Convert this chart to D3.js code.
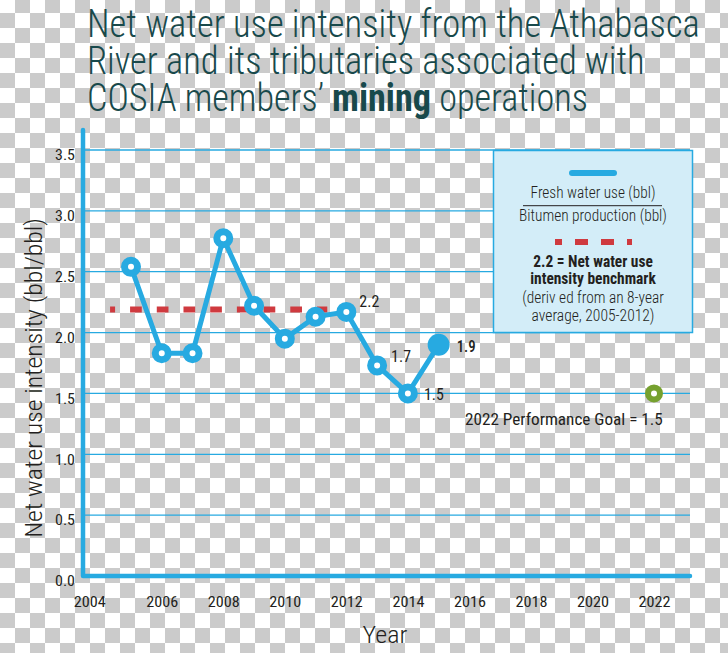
<!DOCTYPE html>
<html><head><meta charset="utf-8">
<script src="https://cdn.jsdelivr.net/npm/d3@7"></script>
<style>html,body{margin:0;padding:0;background:#fff;} svg{display:block}</style>
</head><body>
<svg id="chart" width="728" height="653"></svg>
<script>
// ---------- data ----------
const years = [2005, 2006, 2007, 2008, 2009, 2010, 2011, 2012, 2013, 2014, 2015];
const intensity = [2.54, 1.83, 1.83, 2.775, 2.22, 1.95, 2.13, 2.17, 1.73, 1.50, 1.90];
const labeledYears = [2012, 2013, 2014, 2015];
const labelTexts = ["2.2", "1.7", "1.5", "1.9"];
const benchmarkValue = 2.19;
const benchmarkYears = [2004.32, 2011.38];
const goalYear = 2022;
const goalValue = 1.5;
const xTickValues = [2004, 2006, 2008, 2010, 2012, 2014, 2016, 2018, 2020, 2022];
const yTickValues = [0, 0.5, 1.0, 1.5, 2.0, 2.5, 3.0, 3.5];
const titleLines = ["Net water use intensity from the Athabasca", "River and its tributaries associated with"];
const titleLine3 = ["COSIA members’ ", "mining", " operations"];
const yTitle = "Net water use intensity (bbl/bbl)";
const xTitle = "Year";
const legendFraction = ["Fresh water use (bbl)", "Bitumen production (bbl)"];
const legendBenchmarkBold = ["2.2 = Net water use", "intensity benchmark"];
const legendBenchmarkNote = ["(deriv ed from an 8-year", "average, 2005-2012)"];
const goalLabel = "2022 Performance Goal = 1.5";

// ---------- style ----------
const BLUE = "#27aae1", RED = "#cf3a3f", GREEN = "#76a12f", INK = "#231f20", TEAL = "#18494b";
const FONT = "'Roboto Condensed','Liberation Sans Narrow','DejaVu Sans Condensed',Roboto,sans-serif";

const svg = d3.select("#chart");

// checkerboard background
const defs = svg.append("defs");
const pat = defs.append("pattern").attr("id", "checker").attr("patternUnits", "userSpaceOnUse")
  .attr("x", 0).attr("y", -2).attr("width", 30).attr("height", 30);
pat.append("rect").attr("width", 30).attr("height", 30).attr("fill", "#ffffff");
pat.append("rect").attr("x", 15).attr("y", 0).attr("width", 15).attr("height", 15).attr("fill", "#cbcbcb");
pat.append("rect").attr("x", 0).attr("y", 15).attr("width", 15).attr("height", 15).attr("fill", "#cbcbcb");
svg.append("rect").attr("width", 728).attr("height", 653).attr("fill", "url(#checker)");

// helper: text fitted to a width
function addText(parent, o, build) {
  const g = parent.append("g").attr("transform", `translate(${o.x},${o.y}) rotate(${o.rotate || 0})`);
  const t = g.append("text").attr("text-anchor", o.anchor || "start")
    .attr("font-size", o.size).attr("font-weight", o.weight || 400)
    .attr("fill", o.fill || INK).attr("font-family", o.family || FONT);
  if (typeof build === "string") t.text(build); else build(t);
  if (o.width) {
    const w = t.node().getBBox().width;
    t.attr("transform", `scale(${o.width / w},1)`);
  }
  return t;
}

// scales
const x = d3.scaleLinear().domain([2005, 2022]).range([131, 654]);
const y = d3.scaleLinear().domain([0, 3.5]).range([576, 150]);
const X0 = 83, X1 = 690;

// gridlines
svg.append("g").selectAll("line").data(yTickValues.filter(d => d > 0)).join("line")
  .attr("x1", X0).attr("x2", X1).attr("y1", d => y(d)).attr("y2", d => y(d))
  .attr("stroke", BLUE).attr("stroke-width", 1.3);

// axes frame
svg.append("path").attr("d", `M${X0},130 L${X0},${y(0)} L${X1},${y(0)}`)
  .attr("fill", "none").attr("stroke", BLUE).attr("stroke-width", 4.5)
  .attr("stroke-linejoin", "round").attr("stroke-linecap", "round");

// y axis ticks
const yAxis = svg.append("g").attr("transform", `translate(${X0},0)`)
  .call(d3.axisLeft(y).tickValues(yTickValues).tickFormat(d3.format(".1f")).tickSize(0).tickPadding(8));
yAxis.select(".domain").remove();
yAxis.selectAll("text").attr("font-family", FONT).attr("font-size", 15).attr("fill", INK).attr("y", 5)
  .attr("textLength", 20).attr("lengthAdjust", "spacingAndGlyphs");

// x axis ticks
const xAxis = svg.append("g").attr("transform", `translate(0,${y(0)})`)
  .call(d3.axisBottom(x).tickValues(xTickValues).tickFormat(d3.format("d")).tickSize(0).tickPadding(20));
xAxis.select(".domain").remove();
xAxis.selectAll("text").attr("font-family", FONT).attr("font-size", 15).attr("fill", INK)
  .attr("dx", d => d === 2004 ? -11 : 0)
  .attr("textLength", 32).attr("lengthAdjust", "spacingAndGlyphs");

// axis titles
addText(svg, { x: 42, y: 378, rotate: -90, anchor: "middle", size: 23, weight: 300, width: 320 }, yTitle);
addText(svg, { x: 385, y: 643, anchor: "middle", size: 24, weight: 300, width: 45 }, xTitle);

// benchmark dashed line
svg.append("line")
  .attr("x1", x(benchmarkYears[0])).attr("x2", x(benchmarkYears[1]))
  .attr("y1", y(benchmarkValue)).attr("y2", y(benchmarkValue))
  .attr("stroke", RED).attr("stroke-width", 6)
  .attr("stroke-dasharray", "11.7,15").attr("stroke-dashoffset", 6.7);

// series line
const pts = years.map((yr, i) => ({ yr, v: intensity[i] }));
svg.append("path").datum(pts)
  .attr("d", d3.line().x(d => x(d.yr)).y(d => y(d.v)))
  .attr("fill", "none").attr("stroke", BLUE).attr("stroke-width", 5)
  .attr("stroke-linejoin", "round");

// points
const lastYear = years[years.length - 1];
svg.append("g").selectAll("circle").data(pts).join("circle")
  .attr("cx", d => x(d.yr)).attr("cy", d => y(d.v))
  .attr("r", d => d.yr === lastYear ? 11 : 6.5)
  .attr("fill", d => d.yr === lastYear ? BLUE : "#fff")
  .attr("stroke", BLUE).attr("stroke-width", d => d.yr === lastYear ? 0 : 7);

// point labels
const labelOffsets = { 2012: [13, -5], 2013: [14, -3], 2014: [16, 7], 2015: [18, 7] };
labeledYears.forEach((yr, i) => {
  const v = intensity[years.indexOf(yr)];
  const [dx, dy] = labelOffsets[yr];
  addText(svg, { x: x(yr) + dx, y: y(v) + dy, size: yr === lastYear ? 17 : 16,
    weight: yr === lastYear ? 500 : 400, width: yr === lastYear ? 19 : 20 }, labelTexts[i]);
});

// goal point
svg.append("circle").attr("cx", x(goalYear)).attr("cy", y(goalValue)).attr("r", 6)
  .attr("fill", "#fff").attr("stroke", GREEN).attr("stroke-width", 6);
addText(svg, { x: 465, y: 425, size: 17, width: 198 }, goalLabel);

// legend
const lg = svg.append("g");
lg.append("rect").attr("x", 493.5).attr("y", 150.5).attr("width", 199).attr("height", 182)
  .attr("fill", "#d3edf8").attr("stroke", BLUE).attr("stroke-width", 1.5);
lg.append("line").attr("x1", 572).attr("x2", 614).attr("y1", 173).attr("y2", 173)
  .attr("stroke", BLUE).attr("stroke-width", 6).attr("stroke-linecap", "round");
addText(lg, { x: 593, y: 198, anchor: "middle", size: 16, weight: 300, width: 125 }, legendFraction[0]);
lg.append("line").attr("x1", 523).attr("x2", 662).attr("y1", 205.7).attr("y2", 205.7)
  .attr("stroke", INK).attr("stroke-width", 1);
addText(lg, { x: 593, y: 221, anchor: "middle", size: 16, weight: 300, width: 148 }, legendFraction[1]);
lg.append("line").attr("x1", 555).attr("x2", 632).attr("y1", 242).attr("y2", 242)
  .attr("stroke", RED).attr("stroke-width", 6)
  .attr("stroke-dasharray", "13,13").attr("stroke-dashoffset", 6);
addText(lg, { x: 593, y: 267, anchor: "middle", size: 16, weight: 700, width: 120 }, legendBenchmarkBold[0]);
addText(lg, { x: 593, y: 284, anchor: "middle", size: 16, weight: 700, width: 126 }, legendBenchmarkBold[1]);
addText(lg, { x: 593, y: 303, anchor: "middle", size: 16, weight: 300, width: 142 }, legendBenchmarkNote[0]);
addText(lg, { x: 593, y: 321, anchor: "middle", size: 16, weight: 300, width: 123 }, legendBenchmarkNote[1]);

// title
const titleWidths = [613, 558, 501];
titleLines.forEach((line, i) => {
  addText(svg, { x: 87, y: 37 + i * 37, size: 39, weight: 300, fill: TEAL, width: titleWidths[i] }, line);
});
addText(svg, { x: 87, y: 111, size: 39, weight: 300, fill: TEAL, width: titleWidths[2] }, t => {
  titleLine3.forEach((s, i) => t.append("tspan").attr("font-weight", i === 1 ? 700 : 300).style("white-space", "pre").text(s));
});
</script>
</body></html>
